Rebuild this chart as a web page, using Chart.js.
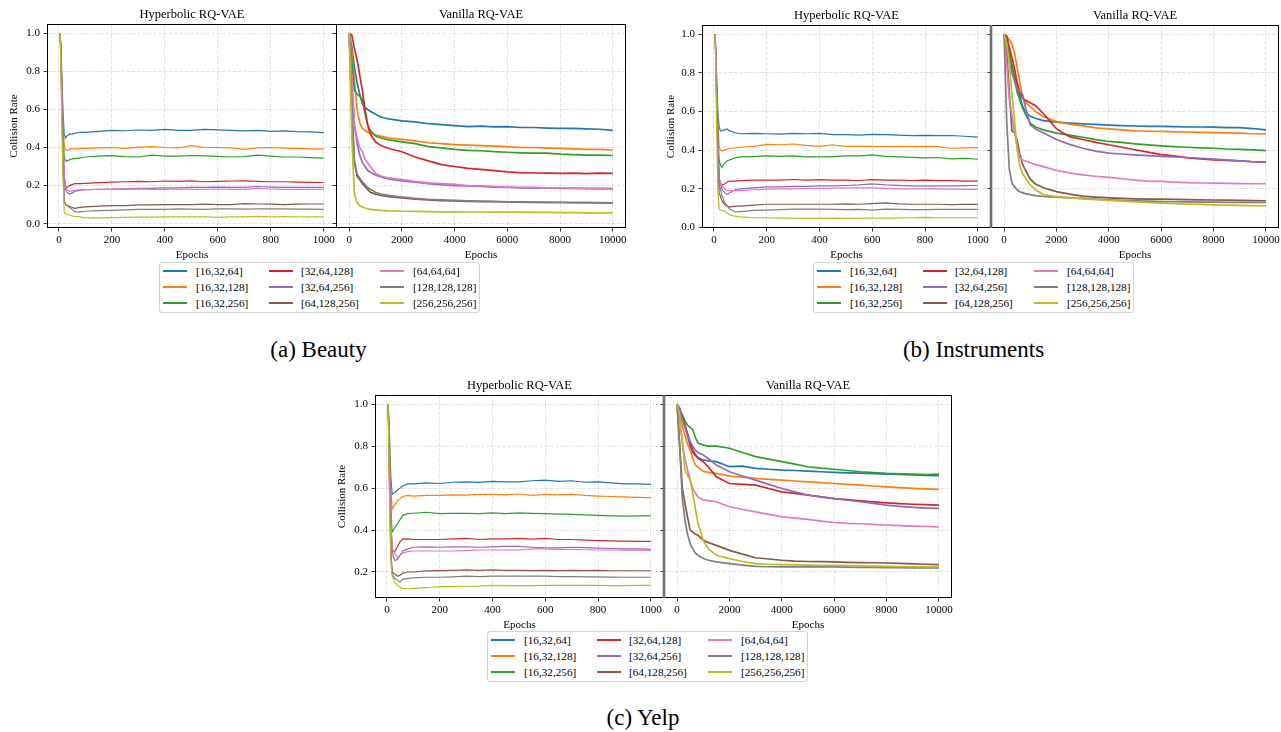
<!DOCTYPE html>
<html>
<head>
<meta charset="utf-8">
<script src="https://cdn.jsdelivr.net/npm/chart.js@4.4.0/dist/chart.umd.min.js"></script>
<style>
  body { margin: 0; width: 1281px; height: 732px; position: relative; overflow: hidden; background: #fff;
         font-family: "Liberation Serif", "DejaVu Serif", serif; color: #000; }
  .ptitle { position: absolute; font-size: 12.5px; white-space: nowrap; transform: translate(-50%, -50%); }
  .caption { position: absolute; font-size: 23px; line-height: 23px; white-space: nowrap; transform: translateX(-50%); }
  .legend { position: absolute; width: 321px; height: 51px; box-sizing: border-box;
            border: 1px solid #d3d3d3; border-radius: 3px; background: #fff; }
  .legend .sw { position: absolute; width: 24px; height: 1.6px; }
  .legend .lb { position: absolute; font-size: 11.2px; line-height: 12px; white-space: nowrap; transform: translateY(-50%); }
</style>
</head>
<body>
<script>
// series (legend order, matplotlib tab10 colours)
const seriesLabels = ['[16,32,64]', '[16,32,128]', '[16,32,256]', '[32,64,128]', '[32,64,256]',
                      '[64,128,256]', '[64,64,64]', '[128,128,128]', '[256,256,256]'];
const seriesColors = ['#1f77b4', '#ff7f0e', '#2ca02c', '#d62728', '#9467bd',
                      '#8c564b', '#e377c2', '#7f7f7f', '#bcbd22'];

const hypEpochs = [5, 10, 15, 20, 25, 30, 40, 50, 60, 80, 100, 150, 200, 250, 300, 350, 400, 450, 500,
                   550, 600, 650, 700, 750, 800, 850, 900, 950, 1000];
const vanEpochs = [0, 100, 200, 300, 400, 500, 600, 700, 800, 1000, 1200, 1500, 2000, 2500, 3000, 3500,
                   4000, 4500, 5000, 5500, 6000, 6500, 7000, 7500, 8000, 8500, 9000, 9500, 10000];

const hypTicks = [0, 200, 400, 600, 800, 1000];
const vanTicks = [0, 2000, 4000, 6000, 8000, 10000];
const rateTicks = [0, 0.2, 0.4, 0.6, 0.8, 1.0];

// (a) Beauty
const beautyHyperbolic = [
  [1.0, 0.82, 0.6, 0.47, 0.45, 0.46, 0.47, 0.47, 0.475, 0.48, 0.48, 0.485, 0.49, 0.488, 0.492, 0.49, 0.495, 0.49, 0.49, 0.495, 0.493, 0.49, 0.487, 0.49, 0.485, 0.487, 0.483, 0.482, 0.478],
  [1.0, 0.8, 0.55, 0.41, 0.39, 0.385, 0.39, 0.395, 0.392, 0.395, 0.395, 0.398, 0.4, 0.395, 0.402, 0.405, 0.4, 0.398, 0.41, 0.4, 0.4, 0.398, 0.39, 0.398, 0.4, 0.397, 0.395, 0.393, 0.392],
  [1.0, 0.78, 0.5, 0.35, 0.33, 0.33, 0.335, 0.34, 0.342, 0.345, 0.35, 0.355, 0.357, 0.352, 0.35, 0.36, 0.355, 0.355, 0.358, 0.356, 0.353, 0.35, 0.352, 0.36, 0.355, 0.35, 0.35, 0.347, 0.344],
  [1.0, 0.75, 0.45, 0.25, 0.2, 0.19, 0.2, 0.205, 0.21, 0.21, 0.212, 0.215, 0.218, 0.22, 0.222, 0.22, 0.224, 0.222, 0.225, 0.22, 0.222, 0.224, 0.225, 0.222, 0.22, 0.22, 0.218, 0.217, 0.216],
  [1.0, 0.75, 0.45, 0.25, 0.18, 0.165, 0.155, 0.16, 0.17, 0.175, 0.178, 0.18, 0.182, 0.183, 0.185, 0.185, 0.188, 0.188, 0.19, 0.19, 0.192, 0.19, 0.19, 0.195, 0.192, 0.19, 0.19, 0.19, 0.19],
  [1.0, 0.7, 0.35, 0.12, 0.1, 0.095, 0.09, 0.085, 0.08, 0.085, 0.088, 0.092, 0.095, 0.095, 0.098, 0.098, 0.1, 0.1, 0.1, 0.102, 0.1, 0.1, 0.105, 0.103, 0.102, 0.1, 0.102, 0.103, 0.103],
  [1.0, 0.75, 0.45, 0.25, 0.2, 0.18, 0.17, 0.172, 0.175, 0.178, 0.178, 0.18, 0.18, 0.18, 0.182, 0.18, 0.18, 0.182, 0.18, 0.18, 0.182, 0.18, 0.18, 0.185, 0.182, 0.18, 0.18, 0.18, 0.18],
  [1.0, 0.7, 0.35, 0.12, 0.1, 0.095, 0.085, 0.075, 0.062, 0.062, 0.065, 0.068, 0.07, 0.072, 0.075, 0.075, 0.075, 0.077, 0.076, 0.075, 0.078, 0.077, 0.076, 0.078, 0.078, 0.077, 0.076, 0.076, 0.075],
  [1.0, 0.6, 0.25, 0.06, 0.05, 0.048, 0.045, 0.04, 0.038, 0.035, 0.03, 0.03, 0.032, 0.033, 0.034, 0.034, 0.035, 0.036, 0.035, 0.036, 0.033, 0.035, 0.035, 0.038, 0.036, 0.037, 0.036, 0.035, 0.035]
];
const beautyVanilla = [
  [1.0, 0.93, 0.82, 0.74, 0.68, 0.63, 0.61, 0.6, 0.59, 0.575, 0.56, 0.55, 0.54, 0.535, 0.525, 0.52, 0.515, 0.51, 0.512, 0.508, 0.51, 0.505, 0.505, 0.502, 0.5, 0.5, 0.498, 0.496, 0.49],
  [1.0, 0.9, 0.75, 0.6, 0.53, 0.5, 0.49, 0.48, 0.475, 0.465, 0.46, 0.45, 0.443, 0.435, 0.425, 0.42, 0.415, 0.413, 0.41, 0.407, 0.405, 0.4, 0.4, 0.397, 0.395, 0.393, 0.39, 0.39, 0.387],
  [1.0, 0.85, 0.7, 0.68, 0.67, 0.65, 0.58, 0.52, 0.49, 0.46, 0.45, 0.44, 0.43, 0.42, 0.405, 0.398, 0.39, 0.385, 0.383, 0.378, 0.375, 0.372, 0.37, 0.37, 0.365, 0.363, 0.36, 0.36, 0.358],
  [1.0, 0.99, 0.92, 0.86, 0.78, 0.7, 0.6, 0.52, 0.47, 0.43, 0.41, 0.395, 0.378, 0.35, 0.33, 0.31, 0.3, 0.29, 0.285, 0.278, 0.272, 0.268, 0.266, 0.265, 0.264, 0.265, 0.263, 0.265, 0.264],
  [1.0, 0.75, 0.52, 0.42, 0.36, 0.32, 0.3, 0.28, 0.27, 0.255, 0.245, 0.235, 0.225, 0.218, 0.21, 0.205, 0.2, 0.198, 0.195, 0.192, 0.19, 0.188, 0.187, 0.186, 0.185, 0.185, 0.184, 0.184, 0.183],
  [1.0, 0.58, 0.32, 0.25, 0.23, 0.21, 0.195, 0.18, 0.165, 0.155, 0.148, 0.142, 0.135, 0.128, 0.124, 0.121, 0.119, 0.117, 0.116, 0.115, 0.114, 0.113, 0.112, 0.112, 0.111, 0.11, 0.11, 0.109, 0.109],
  [1.0, 0.75, 0.52, 0.45, 0.4, 0.38, 0.34, 0.32, 0.3, 0.265, 0.25, 0.24, 0.232, 0.222, 0.214, 0.21, 0.206, 0.2, 0.198, 0.195, 0.192, 0.19, 0.19, 0.188, 0.188, 0.187, 0.186, 0.185, 0.185],
  [1.0, 0.6, 0.33, 0.26, 0.24, 0.22, 0.205, 0.19, 0.18, 0.165, 0.155, 0.148, 0.14, 0.133, 0.128, 0.125, 0.122, 0.12, 0.118, 0.117, 0.115, 0.114, 0.113, 0.112, 0.112, 0.111, 0.11, 0.11, 0.109],
  [1.0, 0.45, 0.15, 0.11, 0.095, 0.088, 0.082, 0.078, 0.075, 0.072, 0.07, 0.067, 0.065, 0.064, 0.063, 0.062, 0.062, 0.061, 0.061, 0.06, 0.06, 0.06, 0.059, 0.059, 0.058, 0.058, 0.057, 0.057, 0.056]
];

// (b) Instruments
const instrumentsHyperbolic = [
  [1.0, 0.8, 0.6, 0.52, 0.5, 0.5, 0.505, 0.51, 0.5, 0.49, 0.485, 0.487, 0.485, 0.483, 0.487, 0.485, 0.487, 0.48, 0.48, 0.478, 0.482, 0.48, 0.478, 0.475, 0.477, 0.475, 0.476, 0.472, 0.468],
  [1.0, 0.78, 0.55, 0.42, 0.4, 0.395, 0.4, 0.405, 0.41, 0.412, 0.415, 0.42, 0.43, 0.428, 0.432, 0.425, 0.42, 0.428, 0.42, 0.42, 0.42, 0.418, 0.42, 0.418, 0.42, 0.418, 0.41, 0.412, 0.413],
  [1.0, 0.75, 0.5, 0.35, 0.32, 0.31, 0.33, 0.345, 0.35, 0.36, 0.365, 0.367, 0.37, 0.368, 0.37, 0.365, 0.365, 0.367, 0.37, 0.37, 0.376, 0.368, 0.365, 0.363, 0.36, 0.362, 0.355, 0.357, 0.353],
  [1.0, 0.72, 0.45, 0.25, 0.23, 0.22, 0.225, 0.235, 0.24, 0.24, 0.242, 0.245, 0.245, 0.245, 0.248, 0.245, 0.247, 0.245, 0.245, 0.243, 0.247, 0.245, 0.245, 0.243, 0.245, 0.242, 0.242, 0.24, 0.24],
  [1.0, 0.72, 0.45, 0.25, 0.23, 0.2, 0.18, 0.172, 0.18, 0.195, 0.2, 0.205, 0.21, 0.21, 0.212, 0.213, 0.215, 0.215, 0.217, 0.22, 0.225, 0.22, 0.218, 0.215, 0.215, 0.215, 0.215, 0.216, 0.217],
  [1.0, 0.68, 0.35, 0.18, 0.16, 0.14, 0.12, 0.11, 0.105, 0.11, 0.11, 0.115, 0.12, 0.12, 0.12, 0.12, 0.12, 0.12, 0.122, 0.12, 0.123, 0.127, 0.122, 0.12, 0.12, 0.12, 0.118, 0.12, 0.119],
  [1.0, 0.72, 0.45, 0.25, 0.235, 0.22, 0.2, 0.19, 0.19, 0.19, 0.19, 0.195, 0.198, 0.2, 0.2, 0.202, 0.202, 0.203, 0.205, 0.205, 0.205, 0.202, 0.2, 0.2, 0.2, 0.2, 0.198, 0.197, 0.197],
  [1.0, 0.7, 0.4, 0.22, 0.2, 0.17, 0.13, 0.11, 0.095, 0.08, 0.082, 0.088, 0.09, 0.092, 0.095, 0.095, 0.095, 0.093, 0.092, 0.093, 0.09, 0.095, 0.093, 0.092, 0.092, 0.093, 0.093, 0.093, 0.093],
  [1.0, 0.55, 0.2, 0.095, 0.09, 0.088, 0.085, 0.075, 0.065, 0.058, 0.055, 0.05, 0.05, 0.048, 0.048, 0.047, 0.047, 0.048, 0.047, 0.048, 0.048, 0.048, 0.048, 0.05, 0.052, 0.05, 0.05, 0.05, 0.05]
];
const instrumentsVanilla = [
  [1.0, 0.96, 0.9, 0.83, 0.78, 0.74, 0.68, 0.63, 0.6, 0.575, 0.565, 0.553, 0.545, 0.54, 0.536, 0.533, 0.53, 0.527, 0.525, 0.523, 0.523, 0.522, 0.52, 0.52, 0.519, 0.517, 0.517, 0.512, 0.505],
  [1.0, 0.99, 0.97, 0.95, 0.9, 0.83, 0.75, 0.68, 0.65, 0.625, 0.6, 0.574, 0.548, 0.535, 0.526, 0.515, 0.51, 0.505, 0.5, 0.498, 0.497, 0.495, 0.494, 0.492, 0.491, 0.49, 0.488, 0.485, 0.484],
  [1.0, 0.95, 0.9, 0.84, 0.76, 0.7, 0.66, 0.62, 0.59, 0.54, 0.52, 0.505, 0.488, 0.478, 0.467, 0.455, 0.445, 0.44, 0.433, 0.427, 0.422, 0.418, 0.415, 0.412, 0.41, 0.406, 0.404, 0.401, 0.398],
  [1.0, 0.99, 0.93, 0.88, 0.82, 0.75, 0.7, 0.67, 0.66, 0.645, 0.63, 0.59, 0.51, 0.47, 0.455, 0.44, 0.428, 0.415, 0.402, 0.39, 0.377, 0.37, 0.36, 0.355, 0.35, 0.347, 0.345, 0.34, 0.338],
  [1.0, 0.95, 0.85, 0.8, 0.76, 0.72, 0.7, 0.69, 0.63, 0.53, 0.51, 0.49, 0.455, 0.43, 0.41, 0.395, 0.385, 0.38, 0.376, 0.372, 0.368, 0.365, 0.362, 0.358, 0.354, 0.35, 0.345, 0.34, 0.338],
  [1.0, 0.9, 0.7, 0.5, 0.49, 0.45, 0.38, 0.33, 0.3, 0.25, 0.225, 0.205, 0.185, 0.172, 0.162, 0.157, 0.153, 0.15, 0.148, 0.147, 0.146, 0.145, 0.144, 0.143, 0.142, 0.141, 0.14, 0.139, 0.138],
  [1.0, 0.85, 0.66, 0.58, 0.49, 0.42, 0.36, 0.35, 0.345, 0.335, 0.325, 0.315, 0.295, 0.282, 0.272, 0.265, 0.259, 0.252, 0.245, 0.24, 0.238, 0.235, 0.232, 0.23, 0.229, 0.228, 0.227, 0.226, 0.226],
  [1.0, 0.55, 0.3, 0.23, 0.21, 0.195, 0.185, 0.18, 0.175, 0.17, 0.165, 0.16, 0.157, 0.153, 0.15, 0.147, 0.143, 0.14, 0.138, 0.136, 0.134, 0.133, 0.132, 0.131, 0.131, 0.13, 0.13, 0.129, 0.129],
  [1.0, 0.95, 0.85, 0.69, 0.55, 0.4, 0.32, 0.28, 0.26, 0.22, 0.195, 0.17, 0.16, 0.154, 0.148, 0.144, 0.14, 0.136, 0.132, 0.129, 0.126, 0.123, 0.121, 0.119, 0.117, 0.115, 0.114, 0.113, 0.112]
];

// (c) Yelp
const yelpHyperbolic = [
  [1.0, 0.85, 0.65, 0.57, 0.575, 0.58, 0.59, 0.6, 0.61, 0.62, 0.62, 0.625, 0.622, 0.628, 0.63, 0.627, 0.632, 0.63, 0.63, 0.635, 0.638, 0.632, 0.635, 0.628, 0.63, 0.625, 0.62, 0.62, 0.618],
  [1.0, 0.8, 0.6, 0.5, 0.51, 0.52, 0.54, 0.55, 0.56, 0.565, 0.562, 0.565, 0.565, 0.568, 0.567, 0.57, 0.57, 0.568, 0.572, 0.565, 0.57, 0.568, 0.57, 0.565, 0.562, 0.56, 0.558, 0.556, 0.555],
  [1.0, 0.75, 0.5, 0.39, 0.4, 0.41, 0.43, 0.45, 0.47, 0.478, 0.48, 0.485, 0.478, 0.48, 0.48, 0.478, 0.482, 0.478, 0.482, 0.48, 0.478, 0.476, 0.475, 0.472, 0.47, 0.468, 0.466, 0.468, 0.468],
  [1.0, 0.7, 0.45, 0.3, 0.3, 0.298, 0.32, 0.345, 0.357, 0.358, 0.355, 0.355, 0.355, 0.358, 0.36, 0.355, 0.358, 0.358, 0.36, 0.357, 0.36, 0.355, 0.355, 0.352, 0.35, 0.348, 0.347, 0.346, 0.346],
  [1.0, 0.7, 0.45, 0.3, 0.27, 0.255, 0.26, 0.28, 0.3, 0.31, 0.318, 0.32, 0.318, 0.32, 0.32, 0.318, 0.32, 0.322, 0.322, 0.318, 0.315, 0.315, 0.318, 0.316, 0.314, 0.312, 0.31, 0.31, 0.308],
  [1.0, 0.6, 0.3, 0.2, 0.195, 0.19, 0.18, 0.185, 0.195, 0.2, 0.2, 0.205, 0.207, 0.208, 0.21, 0.208, 0.21, 0.208, 0.208, 0.207, 0.208, 0.207, 0.208, 0.207, 0.208, 0.206, 0.206, 0.206, 0.206],
  [1.0, 0.7, 0.45, 0.31, 0.3, 0.29, 0.27, 0.28, 0.29, 0.298, 0.3, 0.3, 0.3, 0.3, 0.302, 0.305, 0.305, 0.305, 0.305, 0.31, 0.31, 0.308, 0.308, 0.306, 0.305, 0.305, 0.304, 0.304, 0.303],
  [1.0, 0.6, 0.3, 0.19, 0.18, 0.17, 0.16, 0.152, 0.165, 0.17, 0.172, 0.175, 0.175, 0.177, 0.18, 0.178, 0.18, 0.18, 0.18, 0.18, 0.18, 0.178, 0.178, 0.177, 0.177, 0.176, 0.175, 0.175, 0.175],
  [1.0, 0.55, 0.25, 0.18, 0.165, 0.15, 0.135, 0.128, 0.122, 0.12, 0.122, 0.125, 0.13, 0.13, 0.132, 0.133, 0.136, 0.135, 0.135, 0.135, 0.136, 0.136, 0.136, 0.136, 0.136, 0.135, 0.135, 0.136, 0.136]
];
const yelpVanilla = [
  [1.0, 0.97, 0.93, 0.9, 0.85, 0.8, 0.77, 0.755, 0.745, 0.734, 0.73, 0.726, 0.702, 0.705, 0.694, 0.69, 0.686, 0.684, 0.681, 0.678, 0.675, 0.673, 0.671, 0.669, 0.667, 0.665, 0.663, 0.661, 0.659],
  [1.0, 0.95, 0.9, 0.85, 0.81, 0.78, 0.74, 0.71, 0.7, 0.68, 0.675, 0.67, 0.657, 0.652, 0.646, 0.642, 0.638, 0.634, 0.63, 0.626, 0.622, 0.618, 0.614, 0.61, 0.606, 0.602, 0.599, 0.596, 0.594],
  [1.0, 0.97, 0.95, 0.92, 0.9, 0.89, 0.877, 0.84, 0.815, 0.805, 0.8, 0.8, 0.79, 0.77, 0.75, 0.738, 0.726, 0.714, 0.702, 0.695, 0.69, 0.684, 0.678, 0.674, 0.67, 0.668, 0.667, 0.665, 0.667],
  [1.0, 0.98, 0.94, 0.9, 0.86, 0.82, 0.78, 0.76, 0.742, 0.726, 0.7, 0.654, 0.622, 0.618, 0.614, 0.598, 0.582, 0.575, 0.567, 0.558, 0.55, 0.545, 0.539, 0.534, 0.53, 0.526, 0.523, 0.521, 0.519],
  [1.0, 0.98, 0.93, 0.89, 0.85, 0.82, 0.8, 0.78, 0.77, 0.758, 0.74, 0.71, 0.678, 0.658, 0.638, 0.618, 0.598, 0.582, 0.567, 0.558, 0.55, 0.542, 0.535, 0.527, 0.519, 0.513, 0.508, 0.505, 0.503],
  [1.0, 0.8, 0.6, 0.527, 0.46, 0.4, 0.39, 0.38, 0.375, 0.351, 0.34, 0.327, 0.303, 0.285, 0.268, 0.262, 0.256, 0.252, 0.25, 0.249, 0.248, 0.246, 0.245, 0.244, 0.243, 0.241, 0.239, 0.237, 0.235],
  [1.0, 0.92, 0.82, 0.74, 0.686, 0.64, 0.598, 0.575, 0.558, 0.543, 0.54, 0.535, 0.511, 0.498, 0.487, 0.475, 0.463, 0.457, 0.451, 0.443, 0.436, 0.432, 0.43, 0.427, 0.424, 0.421, 0.419, 0.417, 0.415],
  [1.0, 0.8, 0.55, 0.447, 0.38, 0.335, 0.31, 0.29, 0.28, 0.264, 0.256, 0.248, 0.24, 0.233, 0.227, 0.225, 0.224, 0.224, 0.224, 0.224, 0.224, 0.223, 0.222, 0.222, 0.221, 0.221, 0.22, 0.22, 0.219],
  [1.0, 0.95, 0.82, 0.686, 0.66, 0.638, 0.574, 0.5, 0.431, 0.351, 0.31, 0.28, 0.264, 0.25, 0.24, 0.237, 0.235, 0.234, 0.233, 0.232, 0.232, 0.231, 0.229, 0.228, 0.227, 0.226, 0.225, 0.224, 0.224]
];

Chart.defaults.font.family = '"Liberation Serif", "DejaVu Serif", serif';
Chart.defaults.color = '#000';

// full box around each plot area, like matplotlib spines
const framePlugin = {
  id: 'frame',
  afterDatasetsDraw(chart, args, opts) {
    const { ctx, chartArea: a } = chart;
    const l = Math.round(a.left) + 0.5, t = Math.round(a.top) + 0.5;
    const r = Math.round(a.right) - 0.5, b = Math.round(a.bottom) - 0.5;
    ctx.save();
    ctx.strokeStyle = '#000';
    ctx.lineWidth = 1;
    ctx.strokeRect(l, t, r - l, b - t);
    if (opts.divider) {
      // grey separator drawn over the shared edge of the two panels
      ctx.strokeStyle = opts.divider;
      ctx.lineWidth = 2.6;
      ctx.beginPath();
      ctx.moveTo(Math.round(a.left), a.top);
      ctx.lineTo(Math.round(a.left), a.bottom);
      ctx.stroke();
    }
    ctx.restore();
  }
};

function tickList(list) {
  return function (scale) {
    scale.ticks = list.filter(v => v >= scale.min && v <= scale.max).map(v => ({ value: v }));
  };
}

function makePanel(p) {
  const c = document.createElement('canvas');
  c.width = p.canvas.r - p.canvas.l;
  c.height = p.canvas.b - p.canvas.t;
  c.style.cssText = `position:absolute;left:${p.canvas.l}px;top:${p.canvas.t}px;width:${c.width}px;height:${c.height}px`;
  document.body.appendChild(c);

  const t = document.createElement('div');
  t.className = 'ptitle';
  t.textContent = p.title;
  t.style.left = ((p.plot.l + p.plot.r) / 2) + 'px';
  t.style.top = (p.plot.t - 10) + 'px';
  document.body.appendChild(t);

  const datasets = p.rows.map((ys, i) => ({
    label: seriesLabels[i],
    data: p.xs.map((x, j) => ({ x: x, y: ys[j] })),
    borderColor: seriesColors[i],
    borderWidth: p.lw,
    pointRadius: 0,
    tension: 0,
    fill: false,
    order: seriesLabels.length - 1 - i
  }));

  const gridOpts = { color: 'rgba(0,0,0,0.14)', lineWidth: 0.8, tickColor: '#000', tickLength: 3.5, tickWidth: 0.8 };
  const borderOpts = { display: false, dash: [3.7, 1.6] };

  new Chart(c, {
    type: 'line',
    data: { datasets: datasets },
    options: {
      responsive: false,
      animation: false,
      devicePixelRatio: 1,
      layout: { padding: { left: 0, top: p.plot.t - p.canvas.t, right: p.canvas.r - p.plot.r, bottom: 0 } },
      plugins: { legend: { display: false }, tooltip: { enabled: false }, frame: { divider: p.divider } },
      scales: {
        x: {
          type: 'linear', min: p.xmin, max: p.xmax,
          afterBuildTicks: tickList(p.xticks),
          afterFit(s) { s.height = p.canvas.b - p.plot.b; s.paddingLeft = 0; s.paddingRight = 0; },
          ticks: { font: { size: 11 }, padding: 2, maxRotation: 0, autoSkip: false, callback: v => String(v) },
          grid: gridOpts, border: borderOpts,
          title: { display: true, text: 'Epochs', font: { size: 11 }, padding: { top: 0, bottom: 0 } }
        },
        y: {
          min: p.ymin, max: p.ymax,
          afterBuildTicks: tickList(rateTicks),
          afterFit(s) { s.width = p.plot.l - p.canvas.l; s.paddingTop = 0; s.paddingBottom = 0; },
          ticks: { display: p.ylabels, font: { size: 11 }, padding: 3.5, autoSkip: false, callback: v => v.toFixed(1) },
          grid: gridOpts, border: borderOpts,
          title: { display: p.ylabels, text: 'Collision Rate', font: { size: 11 }, padding: { top: p.ytitle || 0, bottom: 0 } }
        }
      }
    },
    plugins: [framePlugin]
  });
}

function makeLegend(left, top) {
  const box = document.createElement('div');
  box.className = 'legend';
  box.style.left = left + 'px';
  box.style.top = top + 'px';
  const lineX = [3, 109, 220], textX = [36, 141, 253], rowY = [8, 24, 40];
  seriesLabels.forEach((label, i) => {
    const col = Math.floor(i / 3), row = i % 3;
    const sw = document.createElement('div');
    sw.className = 'sw';
    sw.style.background = seriesColors[i];
    sw.style.left = lineX[col] + 'px';
    sw.style.top = (rowY[row] - 0.8) + 'px';
    const lb = document.createElement('div');
    lb.className = 'lb';
    lb.textContent = label;
    lb.style.left = textX[col] + 'px';
    lb.style.top = rowY[row] + 'px';
    box.appendChild(sw);
    box.appendChild(lb);
  });
  document.body.appendChild(box);
}

function makeCaption(text, cx, top) {
  const d = document.createElement('div');
  d.className = 'caption';
  d.textContent = text;
  d.style.left = cx + 'px';
  d.style.top = top + 'px';
  document.body.appendChild(d);
}

const hypRange = { xmin: -45, xmax: 1050, xticks: hypTicks, xs: hypEpochs, lw: 1.2, title: 'Hyperbolic RQ-VAE', ylabels: true };
const vanRange = { xmin: -500, xmax: 10500, xticks: vanTicks, xs: vanEpochs, lw: 1.7, title: 'Vanilla RQ-VAE', ylabels: false };

// (a) Beauty
makePanel(Object.assign({}, hypRange, { rows: beautyHyperbolic, ymin: -0.023, ymax: 1.049, ytitle: 8,
  plot: { l: 47, t: 24, r: 337, b: 228 }, canvas: { l: 0, t: 0, r: 341, b: 262 } }));
makePanel(Object.assign({}, vanRange, { rows: beautyVanilla, ymin: -0.023, ymax: 1.049,
  plot: { l: 336, t: 24, r: 626, b: 228 }, canvas: { l: 326, t: 0, r: 640, b: 262 } }));
// (b) Instruments
makePanel(Object.assign({}, hypRange, { rows: instrumentsHyperbolic, ymin: -0.003, ymax: 1.048, ytitle: 10,
  plot: { l: 702, t: 25, r: 991, b: 228 }, canvas: { l: 655, t: 0, r: 996, b: 262 } }));
makePanel(Object.assign({}, vanRange, { rows: instrumentsVanilla, ymin: -0.003, ymax: 1.048, divider: '#6f6f6f',
  plot: { l: 991, t: 25, r: 1279, b: 228 }, canvas: { l: 981, t: 0, r: 1281, b: 262 } }));
// (c) Yelp
makePanel(Object.assign({}, hypRange, { rows: yelpHyperbolic, ymin: 0.076, ymax: 1.044, ytitle: 7.5,
  plot: { l: 375, t: 395, r: 664, b: 598 }, canvas: { l: 328, t: 370, r: 670, b: 632 } }));
makePanel(Object.assign({}, vanRange, { rows: yelpVanilla, ymin: 0.076, ymax: 1.044, divider: '#6f6f6f',
  plot: { l: 664, t: 395, r: 952, b: 598 }, canvas: { l: 654, t: 370, r: 962, b: 632 } }));

makeLegend(159, 262);
makeLegend(813, 262);
makeLegend(487, 631);

makeCaption('(a) Beauty', 318.5, 338);
makeCaption('(b) Instruments', 973.5, 338);
makeCaption('(c) Yelp', 643, 706);
</script>
</body>
</html>
